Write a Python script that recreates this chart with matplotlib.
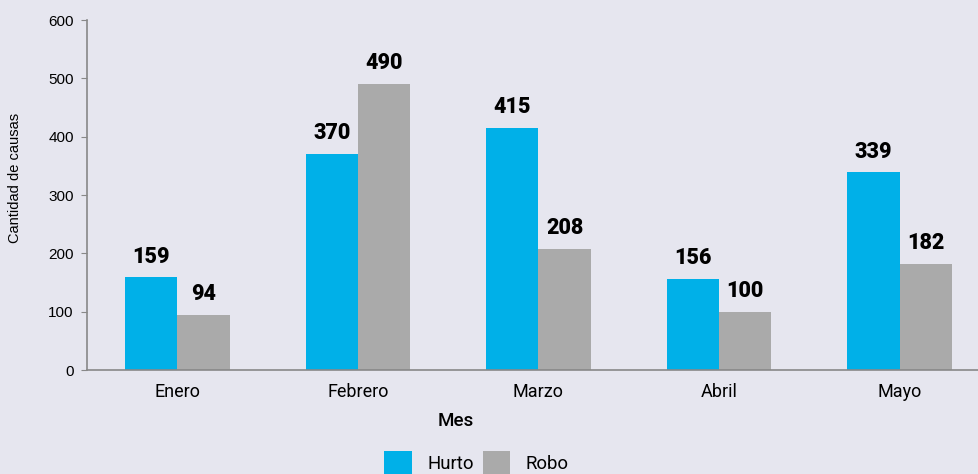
import matplotlib.pyplot as plt
import numpy as np

plt.rcParams['font.family'] = ['Roboto', 'DejaVu Sans']

meses = ['Enero', 'Febrero', 'Marzo', 'Abril', 'Mayo']
hurto = [159, 370, 415, 156, 339]
robo = [94, 490, 208, 100, 182]

bg = '#E6E6EF'
azul = '#00B0E8'
gris = '#AAAAAA'

fig = plt.figure(figsize=(9.79, 4.74), dpi=100, facecolor=bg)
ax = fig.add_axes([0.0889, 0.2194, 0.9111, 0.7384], facecolor=bg)

x = np.arange(len(meses))
w = 0.29
b1 = ax.bar(x - w / 2, hurto, w, color=azul, label='Hurto')
b2 = ax.bar(x + w / 2, robo, w, color=gris, label='Robo')

for bars in (b1, b2):
    ax.bar_label(bars, padding=7, fontsize=15.5, fontweight='black', color='black')

ax.set_ylim(0, 600)
ax.set_xlim(-0.5, 4.44)
ax.set_yticks(range(0, 601, 100))
ax.set_xticks(x)
ax.set_xticklabels(meses, fontsize=13)
ax.tick_params(axis='y', labelsize=11, length=4.5, color='#888888', pad=5,
               labelfontfamily='Liberation Sans')
ax.tick_params(axis='x', length=0, pad=9)

for s in ['top', 'right']:
    ax.spines[s].set_visible(False)
for s in ['left', 'bottom']:
    ax.spines[s].set_color('#888888')
    ax.spines[s].set_linewidth(1.2)

ax.set_ylabel('Cantidad de causas', fontsize=10.5,
              family=['Liberation Sans', 'DejaVu Sans'])
ax.yaxis.set_label_coords(-0.0729, 0.549)
ax.set_xlabel('Mes', fontsize=13.5, fontweight='medium')
ax.xaxis.set_label_coords(0.4137, -0.12)

fig.legend(handles=[b1, b2], labels=['Hurto', 'Robo'], loc='lower center',
           bbox_to_anchor=(0.4865, -0.035), ncol=2, frameon=False, fontsize=13.4,
           handlelength=1.5, handleheight=1.5, handletextpad=0.8,
           columnspacing=0.48)

fig.savefig('out.png', dpi=100, facecolor=bg)
